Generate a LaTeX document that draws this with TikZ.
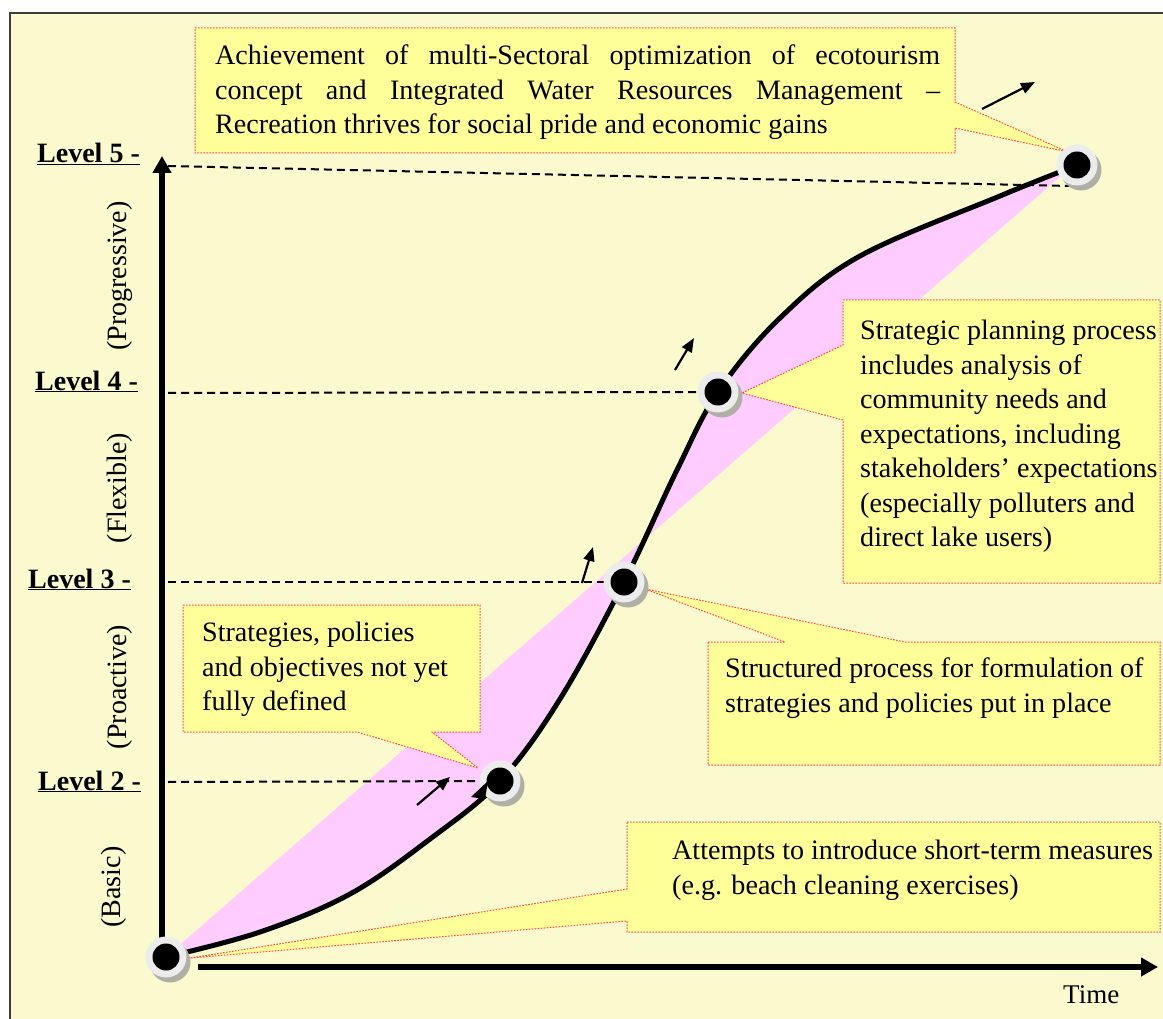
\documentclass[tikz,border=0pt]{standalone}
\usepackage{fontspec}
\setmainfont{Liberation Serif}
\usetikzlibrary{arrows.meta}
\definecolor{bg}{RGB}{250,250,206}
\definecolor{boxy}{RGB}{255,255,153}
\definecolor{pinkf}{RGB}{255,204,255}
\definecolor{reddot}{RGB}{255,70,70}
\definecolor{ringc}{RGB}{236,236,236}
\definecolor{shadowc}{RGB}{175,175,165}
\definecolor{framec}{RGB}{60,60,60}
\tikzset{
  callout/.style={fill=boxy, draw=reddot, line width=1pt, dash pattern=on 1.6pt off 1.4pt},
  boxtext/.style={anchor=north west, inner sep=0pt, align=left, font=\fontsize{28.1}{34.5}\selectfont},
  levellab/.style={anchor=base west, inner sep=0pt, font=\fontsize{28}{34}\selectfont\bfseries},
  phaselab/.style={rotate=90, inner sep=0pt, font=\fontsize{28}{34}\selectfont},
  guide/.style={line width=2pt, dash pattern=on 8pt off 5pt},
  axisline/.style={line width=6pt, -{Triangle[length=17pt,width=18pt]}},
  trendarrow/.style={line width=2.2pt, -{Triangle[length=14pt,width=11pt]}},
  ring/.style={circle, fill=ringc, minimum size=41pt, inner sep=0pt},
  dot/.style={circle, fill=black, minimum size=27pt, inner sep=0pt},
  shadowdisc/.style={circle, fill=shadowc, minimum size=41pt, inner sep=0pt},
}
\newcommand\milestonemark[3]{%
  \node[shadowdisc] at (#2+4,#3+5) {};
  \node[ring] (#1) at (#2,#3) {};
  \node[dot] at (#2,#3) {};
}
\begin{document}
\begin{tikzpicture}[x=1pt,y=-1pt]
\useasboundingbox (0,0) rectangle (1163,1019);
% frame
\fill[white] (0,0) rectangle (1163,1019);
\draw[fill=bg, draw=framec, line width=2.5pt] (10,13) rectangle (1190,1040);

% positions
\coordinate (c1) at (166,957);
\coordinate (c2) at (500,781);
\coordinate (c3) at (624,582);
\coordinate (c4) at (718,392);
\coordinate (c5) at (1077,165);

% pink band between curve and chord
\fill[pinkf] plot[smooth, tension=0.6] coordinates {(166,957) (260,932) (350,894) (430,839) (500,781) (560,699) (624,582) (677,470) (718,392) (780,318) (860,256) (1000,196) (1070,168)} -- cycle;

% guide lines
\coordinate (a2) at (168,782);
\coordinate (a3) at (168,582);
\coordinate (a4) at (168,393);
\coordinate (a5) at (168,166);
\coordinate (e5) at (1070,186);
\draw[guide] (a2) -- (c2);
\draw[guide] (a3) -- (c3);
\draw[guide] (a4) -- (c4);
\draw[guide] (a5) -- (e5);

% curve
\draw[line width=5pt] plot[smooth, tension=0.6] coordinates {(166,957) (260,932) (350,894) (430,839) (500,781) (560,699) (624,582) (677,470) (718,392) (780,318) (860,256) (1000,196) (1070,168)};

% callouts
\draw[callout] (195,28) -- (955,28) -- (955,102) -- (1068,152) -- (955,128) -- (955,153) -- (195,153) -- cycle;
\node[boxtext] (t1) at (215,45) {\makebox[725pt][s]{Achievement of multi-Sectoral optimization of ecotourism}\\
\makebox[725pt][s]{concept and Integrated Water Resources Management --}\\
Recreation thrives for social pride and economic gains};

\draw[callout] (843,300) -- (1160,300) -- (1160,583) -- (843,583) -- (843,420) -- (742,393) -- (843,345) -- cycle;
\node[boxtext] (t2) at (860,320) {Strategic planning process\\includes analysis of\\community needs and\\expectations, including\\stakeholders’ expectations\\(especially polluters and\\direct lake users)};

\draw[callout] (708,642) -- (785,642) -- (645,589) -- (905,642) -- (1160,642) -- (1160,765) -- (708,765) -- cycle;
\node[boxtext] (t3) at (725,658) {Structured process for formulation of\\strategies and policies put in place};

\draw[callout] (183,605) -- (480,605) -- (480,732) -- (432,732) -- (478,768) -- (357,732) -- (183,732) -- cycle;
\node[boxtext] (t4) at (202,622) {Strategies, policies\\and objectives not yet\\fully defined};

\draw[callout] (627,822) -- (1160,822) -- (1160,932) -- (627,932) -- (627,921) -- (190,958) -- (627,889) -- cycle;
\node[boxtext] (t5) at (672,840) {Attempts to introduce short-term measures\\(e.g. beach cleaning exercises)};

% axes
\coordinate (o) at (162,958);
\coordinate (ytop) at (162,156);
\coordinate (xl) at (198,967);
\coordinate (xr) at (1158,967);
\draw[axisline] (o) -- (ytop);
\draw[axisline] (xl) -- (xr);

% trend arrows
\coordinate (s2) at (417,805); \coordinate (f2) at (450,777);
\coordinate (s3) at (582,583); \coordinate (f3) at (593,547);
\coordinate (s4) at (675,370); \coordinate (f4) at (694,338);
\coordinate (s5) at (982,109); \coordinate (f5) at (1035,82);
\draw[trendarrow] (s2) -- (f2);
\draw[trendarrow] (s3) -- (f3);
\draw[trendarrow] (s4) -- (f4);
\draw[trendarrow] (s5) -- (f5);

% milestones
\milestonemark{p1}{166}{957}
\milestonemark{p2}{500}{781}
\milestonemark{p3}{624}{582}
\milestonemark{p4}{718}{392}
\milestonemark{p5}{1077}{165}

% arrowhead of the curve entering level 2
\fill (471,797) -- (488,781) -- (485,799) -- cycle;

% level labels
\node[levellab] (l5) at (37,163) {\underline{Level 5 -}};
\node[levellab] (l4) at (35,390) {\underline{Level 4 -}};
\node[levellab] (l3) at (28,588) {\underline{Level 3 -}};
\node[levellab] (l2) at (38,790) {\underline{Level 2 -}};

% phase labels
\node[phaselab] (ph5) at (120,276) {(Progressive)};
\node[phaselab] (ph4) at (120,488) {(Flexible)};
\node[phaselab] (ph3) at (120,687) {(Proactive)};
\node[phaselab] (ph2) at (114,887) {(Basic)};

\node[anchor=base west, inner sep=0pt, font=\fontsize{27}{32}\selectfont] (time) at (1063,1003) {Time};
\end{tikzpicture}
\end{document}
